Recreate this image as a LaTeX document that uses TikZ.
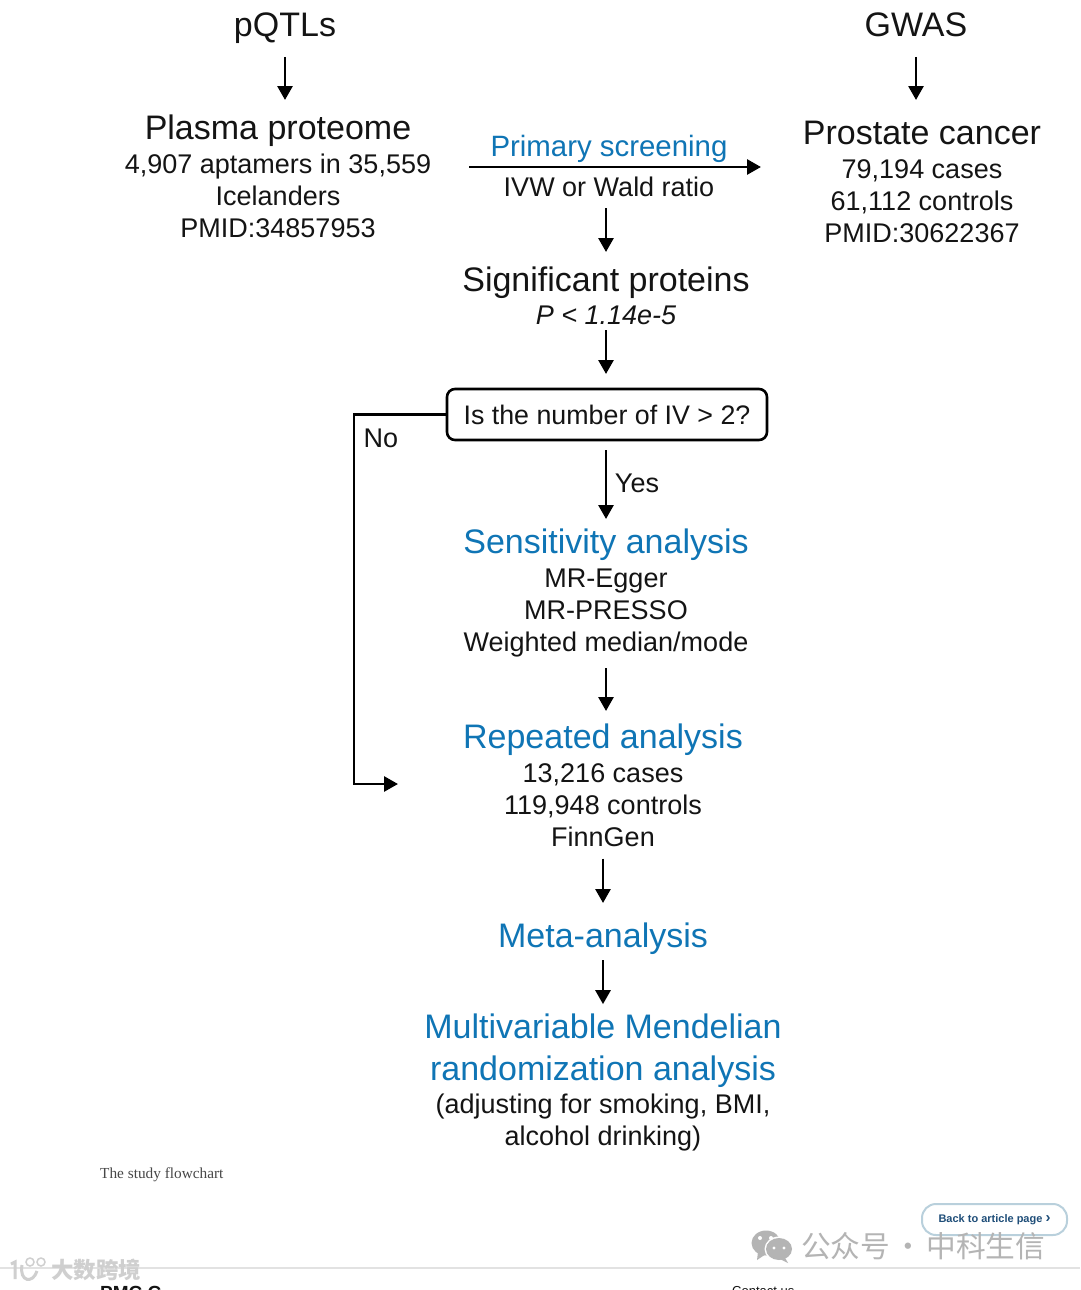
\documentclass[tikz,border=0pt]{standalone}
\usepackage{fontspec}
\setmainfont{Liberation Sans}
\newfontfamily\capfont{Liberation Serif}
\newfontfamily\cjkfont{Noto Sans CJK SC}
\usetikzlibrary{arrows.meta,calc}
\definecolor{hblue}{HTML}{0F75B5}
\definecolor{ink}{HTML}{141414}
\definecolor{wmgray}{HTML}{B4B4B4}
\definecolor{wmlight}{HTML}{CFCFCF}
\definecolor{rulegray}{HTML}{E2E2E2}
\definecolor{btnline}{HTML}{B9D0DC}
\definecolor{btntext}{HTML}{1F4E79}
\tikzset{
  x=1pt,y=-1pt,
  txt/.style={inner sep=0pt,outer sep=0pt,text=ink,align=center},
  head/.style={txt,font=\fontsize{34}{42}\selectfont,text height=28pt,text depth=4pt},
  subhead/.style={head,text=hblue},
  multihead/.style={txt,text=hblue,font=\fontsize{34}{42}\selectfont},
  body/.style={txt,font=\fontsize{27}{32}\selectfont},
  conn/.style={draw=black,line width=2.8pt,-{Triangle[length=14pt,width=15pt]}},
  question/.style={txt,draw=black,line width=2.6pt,rounded corners=8pt,minimum width=320pt,minimum height=51pt,font=\fontsize{26.8}{32}\selectfont}
}
\begin{document}
\begin{tikzpicture}
\useasboundingbox (0,0) rectangle (1080,1290);
\clip (0,0) rectangle (1080,1290);
\fill[white] (0,0) rectangle (1080,1290);

% left and right sources
\node[head] (pqtl) at (285,25) {pQTLs};
\node[head] (gwas) at (916,25) {GWAS};
\node[head] (plasma) at (278,127) {Plasma proteome};
\node[body] (plasmabody) at (278,196) {4,907 aptamers in 35,559\\Icelanders\\PMID:34857953};
\node[head] (prostate) at (922,132) {Prostate cancer};
\node[body] (prostatebody) at (922,201) {79,194 cases\\61,112 controls\\PMID:30622367};

% centre column
\node[txt,text=hblue,font=\fontsize{29.4}{36}\selectfont,text height=24pt,text depth=4pt] (primary) at (609,146) {Primary screening};
\node[body,text height=22pt,text depth=4pt] (ivw) at (609,187) {IVW or Wald ratio};
\node[head] (signif) at (606,279) {Significant proteins};
\node[body,font=\fontsize{27}{32}\selectfont\itshape,text height=22pt,text depth=4pt] (pval) at (606,315) {P < 1.14e-5};
\node[question] (iv) at (607,414.5) {Is the number of IV > 2?};
\node[body] (no) at (381,438) {No};
\node[body] (yes) at (637,483) {Yes};
\node[subhead] (sens) at (606,541) {Sensitivity analysis};
\node[body] (sensbody) at (606,613) {MR-Egger\\MR-PRESSO\\Weighted median/mode};
\node[subhead] (rep) at (603,736) {Repeated analysis};
\node[body] (repbody) at (603,805) {13,216 cases\\119,948 controls\\FinnGen};
\node[subhead] (meta) at (603,935) {Meta-analysis};
\node[multihead] (multi) at (603,1050.5) {Multivariable Mendelian\\randomization analysis};
\node[body] (multibody) at (603,1123) {(adjusting for smoking, BMI,\\alcohol drinking)};

% connectors
\coordinate (hstart) at (469,167);
\coordinate (hend) at (761,167);
\coordinate (elbow) at (354,784);
\coordinate (noend) at (398,784);
\draw[conn,shorten <=16pt,shorten >=11pt] (pqtl.south) -- (pqtl.south |- plasma.north);
\draw[conn,shorten <=16pt,shorten >=16pt] (gwas.south) -- (gwas.south |- prostate.north);
\draw[conn] (hstart) -- (hend);
\draw[conn,shorten <=8pt,shorten >=11pt] (ivw.south -| signif.north) -- (signif.north);
\draw[conn,shorten <=2pt,shorten >=15pt] (pval.south) -- (iv.north -| pval.south);
\draw[conn,shorten <=10pt,shorten >=6pt] (iv.south -| sens.north) -- (sens.north);
\draw[conn,shorten <=11pt,shorten >=9pt] (sensbody.south) -- (sensbody.south |- rep.north);
\draw[conn,shorten <=12pt,shorten >=16pt] (repbody.south) -- (repbody.south |- meta.north);
\draw[conn,shorten <=9pt,shorten >=9.5pt] (meta.south) -- (meta.south |- multi.north);
\draw[conn] (iv.west) -- (iv.west -| elbow) -- (elbow) -- (noend);

% caption and page furniture
\node[inner sep=0pt,anchor=west,text=black!72,font=\capfont\fontsize{15.3}{18}\selectfont] (caption) at (100,1175) {The study flowchart};
\draw[rulegray,line width=1.5pt] (0,1268) -- (1080,1268);
\node[draw=btnline,line width=2pt,rounded corners=14pt,fill=white,minimum width=145pt,minimum height=31pt,inner sep=0pt,text=btntext,font=\bfseries\fontsize{11}{14}\selectfont] (back) at (994.5,1219.5) {Back to article page \fontsize{15}{14}\selectfont ›};
\node[inner sep=0pt,anchor=west,text=wmgray,font=\cjkfont\fontsize{29.7}{36}\selectfont] (wechat) at (801,1246) {公众号\makebox[36pt]{·}中科生信};
\fill[wmgray] (766,1243) ellipse (14.5 and 12.5);
\fill[wmgray] (758,1252) -- (757,1260) -- (766,1254) -- cycle;
\fill[white] (779,1249) ellipse (14.5 and 12.5);
\fill[wmgray] (779,1249) ellipse (13 and 11);
\fill[wmgray] (784,1256) -- (788,1263) -- (778,1258) -- cycle;
\fill[white] (760,1238) circle (2) (771,1238) circle (2) (774,1248) circle (1.6) (784,1248) circle (1.6);
\node[inner sep=0pt,anchor=base west,text=ink,font=\bfseries\fontsize{19}{22}\selectfont] (pmc) at (100,1299) {PMC C};
\node[inner sep=0pt,anchor=base west,text=ink,font=\fontsize{13}{16}\selectfont] (contact) at (732,1295) {Contact us};
\node[inner sep=0pt,anchor=west,text=wmlight,font=\cjkfont\bfseries\fontsize{22.5}{26}\selectfont] (wm) at (51,1270) {大数跨境};
\draw[wmlight,line width=3pt] (11,1264) -- (15,1262) -- (15,1279);
\draw[wmlight,line width=3pt] (22,1265) .. controls (19,1282) and (33,1284) .. (37,1271);
\draw[wmlight,line width=1.5pt] (30,1262) circle (4) (41,1262) circle (4);
\end{tikzpicture}
\end{document}
